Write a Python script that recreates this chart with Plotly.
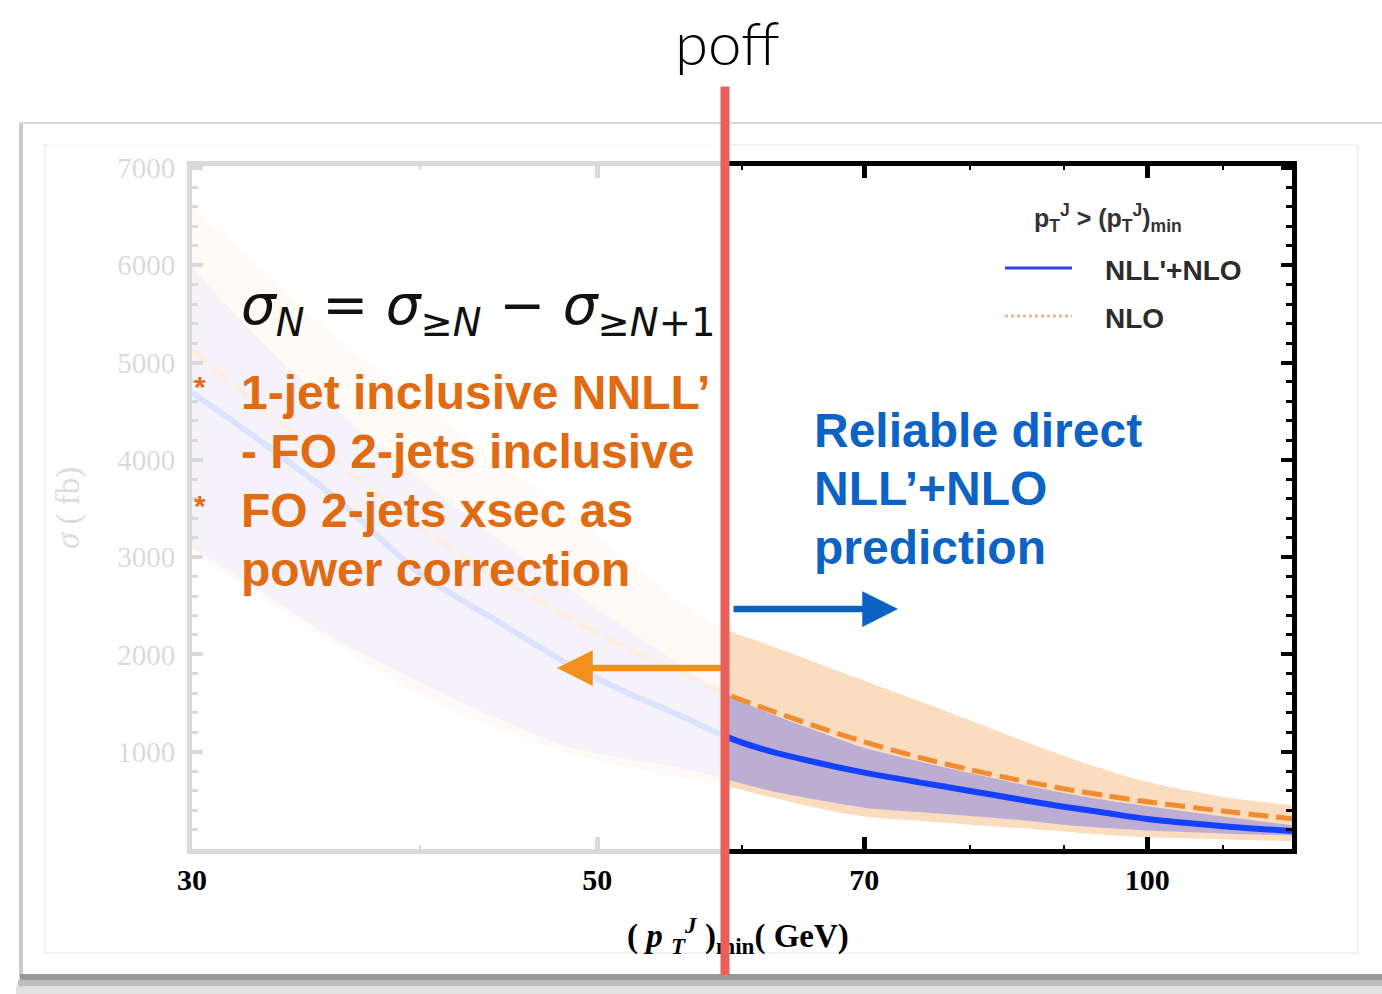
import plotly.graph_objects as go

# Jet transverse-momentum cut (GeV) and cross sections (fb)
pt = [30, 33, 36, 40, 44, 48, 52, 56, 58.7, 62, 66, 70, 75, 80, 85, 90, 95, 100, 110, 120]

nll_central = [4690, 4140, 3600, 2830, 2350, 1920, 1600, 1340, 1160, 1010, 886, 785, 685, 597, 512, 435, 370, 308, 235, 185]
nll_upper = [5980, 5150, 4500, 3800, 3200, 2700, 2250, 1850, 1600, 1400, 1210, 1040, 900, 780, 670, 575, 500, 440, 335, 245]
nll_lower = [3100, 2600, 2150, 1710, 1350, 1060, 920, 820, 720, 605, 505, 425, 380, 340, 300, 250, 215, 190, 160, 140]

nlo_central = [5130, 4480, 3970, 3310, 2800, 2400, 2050, 1780, 1600, 1434, 1255, 1102, 942, 815, 709, 620, 547, 485, 390, 311]
nlo_upper = [6600, 5900, 5250, 4600, 4000, 3500, 2950, 2480, 2260, 2100, 1910, 1730, 1520, 1320, 1130, 955, 810, 690, 535, 450]
nlo_lower = [3050, 2550, 2100, 1580, 1250, 1000, 840, 720, 650, 540, 420, 335, 290, 250, 215, 180, 145, 120, 100, 80]

x_ticks = [30, 50, 70, 100]
x_minor = [40, 60, 80, 90, 110]
y_ticks = [1000, 2000, 3000, 4000, 5000, 6000, 7000]

orange_lines = ["1-jet inclusive NNLL’", "- FO 2-jets inclusive", "FO 2-jets xsec as", "power correction"]
blue_lines = ["Reliable direct", "NLL’+NLO", "prediction"]

PEACH = "#fadcbf"
LAVENDER = "#bcadd3"
ORANGE_LINE = "#f08c32"
BLUE_LINE = "#1440ff"
ORANGE_TEXT = "#e06b12"
BLUE_TEXT = "#0c63c4"
RED_MARK = "#e9605b"

# plot-area geometry in pixels
FIG_W, FIG_H = 1382, 994
L, R, T, B = 192, 1292, 166, 849
W, H = R - L, B - T


def fx(px):
    return (px - L) / W


def fy(py):
    return (B - py) / H


SPLINE = dict(shape="spline", smoothing=0.8)

fig = go.Figure()

fig.add_trace(go.Scatter(x=pt, y=nlo_lower, mode="lines", line=dict(width=0, **SPLINE),
                         showlegend=False, hoverinfo="skip"))
fig.add_trace(go.Scatter(x=pt, y=nlo_upper, mode="lines", line=dict(width=0, **SPLINE),
                         fill="tonexty", fillcolor=PEACH, showlegend=False, hoverinfo="skip"))
fig.add_trace(go.Scatter(x=pt, y=nll_lower, mode="lines", line=dict(width=0, **SPLINE),
                         showlegend=False, hoverinfo="skip"))
fig.add_trace(go.Scatter(x=pt, y=nll_upper, mode="lines", line=dict(width=0, **SPLINE),
                         fill="tonexty", fillcolor=LAVENDER, showlegend=False, hoverinfo="skip"))
fig.add_trace(go.Scatter(x=pt, y=nlo_central, mode="lines", name="NLO",
                         line=dict(color=ORANGE_LINE, width=5, dash="20px,8px", **SPLINE),
                         showlegend=False))
fig.add_trace(go.Scatter(x=pt, y=nll_central, mode="lines", name="NLL'+NLO",
                         line=dict(color=BLUE_LINE, width=6, **SPLINE),
                         showlegend=False))

shapes = [
    # slide card
    dict(type="rect", xref="paper", yref="paper", x0=fx(20), x1=fx(1420), y0=fy(978), y1=fy(123),
         line=dict(color="#d8d8d8", width=2), fillcolor="white", layer="below"),
    dict(type="line", xref="paper", yref="paper", x0=fx(21), x1=fx(21), y0=fy(978), y1=fy(124),
         line=dict(color="#c9c9c9", width=4), layer="below"),
    dict(type="rect", xref="paper", yref="paper", x0=fx(45), x1=fx(1358), y0=fy(953), y1=fy(145),
         line=dict(color="#eeeeee", width=1.5), fillcolor="rgba(0,0,0,0)", layer="below"),
    dict(type="rect", xref="paper", yref="paper", x0=fx(20), x1=fx(1420), y0=fy(980), y1=fy(974),
         line=dict(width=0), fillcolor="#999999", layer="below"),
    dict(type="rect", xref="paper", yref="paper", x0=fx(18), x1=fx(1420), y0=fy(986), y1=fy(980),
         line=dict(width=0), fillcolor="#bdbdbd", layer="below"),
    dict(type="rect", xref="paper", yref="paper", x0=fx(16), x1=fx(1420), y0=fy(994), y1=fy(986),
         line=dict(width=0), fillcolor="#e2e2e2", layer="below"),
    # washed-out region below the cut
    dict(type="rect", xref="paper", yref="paper", x0=fx(48), x1=fx(725), y0=fy(854), y1=fy(140),
         line=dict(width=0), fillcolor="white", opacity=0.85, layer="above"),
    # legend keys
    dict(type="line", xref="paper", yref="paper", x0=fx(1005), x1=fx(1072), y0=fy(268), y1=fy(268),
         line=dict(color="#3344ee", width=3), layer="above"),
    dict(type="line", xref="paper", yref="paper", x0=fx(1005), x1=fx(1072), y0=fy(316), y1=fy(316),
         line=dict(color="#f6b597", width=3, dash="dot"), layer="above"),
]

sans_b = "Liberation Sans"
serif = "Liberation Serif"

annotations = [
    dict(text="poff", x=fx(727), y=fy(42), xref="paper", yref="paper", showarrow=False,
         xanchor="center", yanchor="middle",
         font=dict(family="Lato", size=60, color="black", weight=300)),
    dict(text="<i>σ</i><sub><i>N</i></sub> = <i>σ</i><sub>≥<i>N</i></sub> − <i>σ</i><sub>≥<i>N</i>+1</sub>",
         x=fx(239), y=fy(309), xref="paper", yref="paper", showarrow=False,
         xanchor="left", yanchor="middle",
         font=dict(family="DejaVu Sans", size=55, color="#111111")),
    dict(text="<b>*</b>", x=fx(200), y=fy(386), xref="paper", yref="paper", showarrow=False,
         xanchor="center", yanchor="middle", font=dict(family=sans_b, size=30, color=ORANGE_TEXT)),
    dict(text="<b>*</b>", x=fx(200), y=fy(505), xref="paper", yref="paper", showarrow=False,
         xanchor="center", yanchor="middle", font=dict(family=sans_b, size=30, color=ORANGE_TEXT)),
    # arrows either side of the cut
    dict(text="", x=fx(898), y=fy(609), xref="paper", yref="paper", showarrow=True,
         ax=-166, ay=0, arrowhead=2, arrowsize=1.1, arrowwidth=6.5, arrowcolor="#0a63c3"),
    dict(text="", x=fx(557), y=fy(668), xref="paper", yref="paper", showarrow=True,
         ax=166, ay=0, arrowhead=2, arrowsize=1.1, arrowwidth=6.5, arrowcolor="#f0911e"),
    # legend
    dict(text="<b>p<sub>T</sub><sup>J</sup> &gt; (p<sub>T</sub><sup>J</sup>)<sub>min</sub></b>",
         x=fx(1032), y=fy(218), xref="paper", yref="paper", showarrow=False,
         xanchor="left", yanchor="middle", font=dict(family=sans_b, size=25, color="#333333")),
    dict(text="<b>NLL'+NLO</b>", x=fx(1103), y=fy(270), xref="paper", yref="paper", showarrow=False,
         xanchor="left", yanchor="middle", font=dict(family=sans_b, size=28, color="#2b2b2b")),
    dict(text="<b>NLO</b>", x=fx(1103), y=fy(318), xref="paper", yref="paper", showarrow=False,
         xanchor="left", yanchor="middle", font=dict(family=sans_b, size=28, color="#2b2b2b")),
    # axis titles
    dict(text="<b>( <i>p</i> <sub><i>T</i></sub><sup><i>J</i></sup> )<sub>min</sub>( GeV)</b>",
         x=fx(738), y=fy(935), xref="paper", yref="paper", showarrow=False,
         xanchor="center", yanchor="middle", font=dict(family=serif, size=33, color="black")),
    dict(text="<i>σ</i> ( fb)", x=fx(68), y=fy(508), xref="paper", yref="paper", showarrow=False,
         textangle=-90, xanchor="center", yanchor="middle",
         font=dict(family=serif, size=33, color="#dcdcdc")),
]

# annotation text blocks, one line each
for i, line in enumerate(orange_lines):
    annotations.append(dict(text="<b>" + line + "</b>", x=fx(239), y=fy(392 + 59 * i),
                            xref="paper", yref="paper", showarrow=False,
                            xanchor="left", yanchor="middle",
                            font=dict(family=sans_b, size=48, color=ORANGE_TEXT)))
for i, line in enumerate(blue_lines):
    annotations.append(dict(text="<b>" + line + "</b>", x=fx(812), y=fy(430 + 58.5 * i),
                            xref="paper", yref="paper", showarrow=False,
                            xanchor="left", yanchor="middle",
                            font=dict(family=sans_b, size=48, color=BLUE_TEXT)))

# red marker through the cut, on top of everything
annotations.append(dict(text="", x=fx(725), y=fy(975), xref="paper", yref="paper", showarrow=True,
                        ax=0, ay=-890, arrowhead=0, arrowwidth=9, arrowcolor=RED_MARK))

fig.update_layout(
    width=FIG_W, height=FIG_H,
    margin=dict(l=L, r=FIG_W - R, t=T, b=FIG_H - B, pad=0),
    paper_bgcolor="white", plot_bgcolor="white",
    showlegend=False,
    shapes=shapes,
    annotations=annotations,
    xaxis=dict(
        type="log", range=[1.4771, 2.0792],
        tickvals=x_ticks, ticktext=[str(v) for v in x_ticks],
        ticks="inside", ticklen=12, tickwidth=5, tickcolor="black",
        minor=dict(tickvals=x_minor, ticks="inside", ticklen=4, tickwidth=2, tickcolor="black"),
        showline=True, linewidth=5, linecolor="black", mirror="allticks",
        showgrid=False, zeroline=False, ticklabelstandoff=0,
        tickfont=dict(family=serif, size=30, color="black", weight="bold"),
    ),
    yaxis=dict(
        range=[0, 7020],
        tickvals=y_ticks,
        ticks="inside", ticklen=11, tickwidth=4, tickcolor="black",
        minor=dict(dtick=200, ticks="inside", ticklen=6, tickwidth=3, tickcolor="black"),
        showline=True, linewidth=5, linecolor="black", mirror="allticks",
        showgrid=False, zeroline=False, ticklabelstandoff=6,
        tickfont=dict(family=serif, size=29, color="black"),
    ),
)

fig.write_html("out.html")
